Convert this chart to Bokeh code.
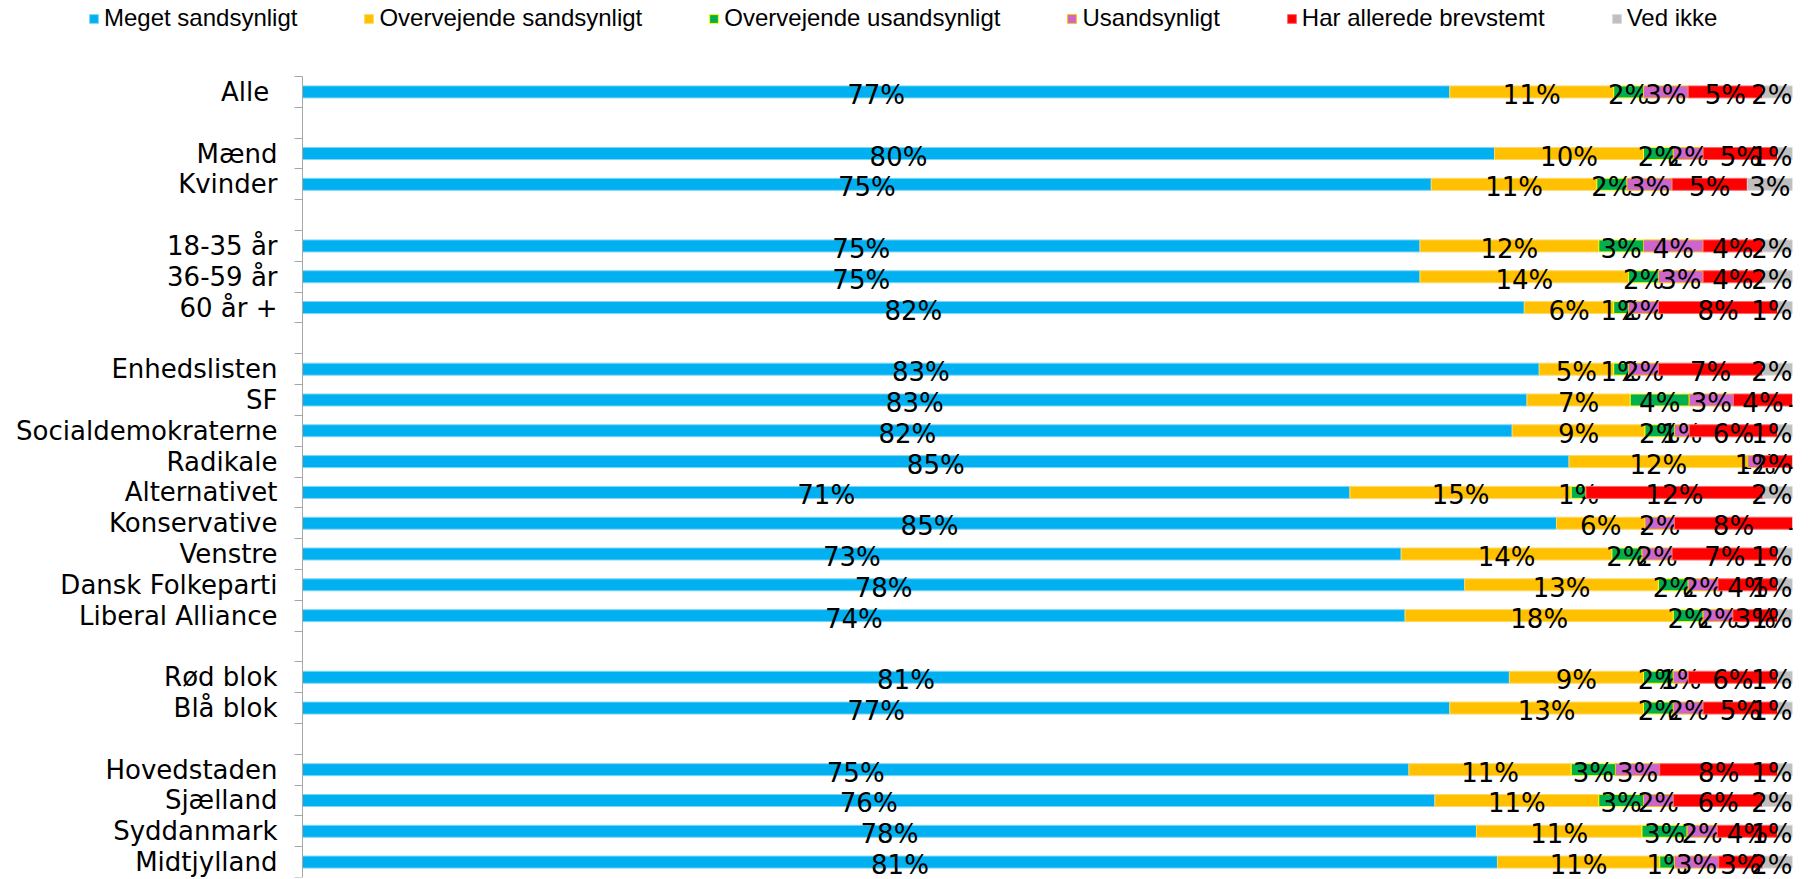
from bokeh.plotting import figure
from bokeh.models import (ColumnDataSource, Range1d, FixedTicker, Legend, LegendItem)
from bokeh.core.properties import value
from bokeh.embed import file_html
from bokeh.resources import INLINE

categories = ["Alle ", "", "Mænd", "Kvinder", "", "18-35 år", "36-59 år", "60 år +", "",
              "Enhedslisten", "SF", "Socialdemokraterne", "Radikale", "Alternativet",
              "Konservative", "Venstre", "Dansk Folkeparti", "Liberal Alliance", "",
              "Rød blok", "Blå blok", "", "Hovedstaden", "Sjælland", "Syddanmark", "Midtjylland"]

series_names = ["Meget sandsynligt", "Overvejende sandsynligt", "Overvejende usandsynligt",
                "Usandsynligt", "Har allerede brevstemt", "Ved ikke"]

meget_sandsynligt = [77, None, 80, 75, None, 75, 75, 82, None, 83, 83, 82, 85, 71, 85, 73, 78, 74, None, 81, 77, None, 75, 76, 78, 81]
overvejende_sandsynligt = [11, None, 10, 11, None, 12, 14, 6, None, 5, 7, 9, 12, 15, 6, 14, 13, 18, None, 9, 13, None, 11, 11, 11, 11]
overvejende_usandsynligt = [2, None, 2, 2, None, 3, 2, 1, None, 1, 4, 2, 0, 1, 0, 2, 2, 2, None, 2, 2, None, 3, 3, 3, 1]
usandsynligt = [3, None, 2, 3, None, 4, 3, 2, None, 2, 3, 1, 1, 0, 2, 2, 2, 2, None, 1, 2, None, 3, 2, 2, 3]
har_brevstemt = [5, None, 5, 5, None, 4, 4, 8, None, 7, 4, 6, 2, 12, 8, 7, 4, 3, None, 6, 5, None, 8, 6, 4, 3]
ved_ikke = [2, None, 1, 3, None, 2, 2, 1, None, 2, 0, 1, 0, 2, 0, 1, 1, 1, None, 1, 1, None, 1, 2, 1, 2]

all_series = [meget_sandsynligt, overvejende_sandsynligt, overvejende_usandsynligt,
              usandsynligt, har_brevstemt, ved_ikke]

fill_colors = ["#00B0F0", "#FFC000", "#00B050", "#CC66CC", "#FF0000", "#BFBFBF"]
line_colors = ["#7FD7F7", "#FFD966", "#FFFF00", "#FFC000", "#FF6666", "#D9D9D9"]

FONT = "DejaVu Sans"
LABEL_PX = 26
n = len(categories)

# layout (pixels): plot area of the bars, and room above it for the legend
W, H = 1808, 879
BAR_LEFT, BAR_RIGHT = 302, 1792
ROWS_TOP, ROWS_BOTTOM = 76, 877
px_per_unit_x = (BAR_RIGHT - BAR_LEFT) / 100.0
px_per_row = (ROWS_BOTTOM - ROWS_TOP) / n
x_start = -BAR_LEFT / px_per_unit_x
y_top = -0.5 - ROWS_TOP / px_per_row

p = figure(width=W, height=H, output_backend="svg", toolbar_location=None,
           x_range=Range1d(x_start, 100), y_range=Range1d(n - 0.5, y_top),
           min_border_left=0, min_border_right=W - BAR_RIGHT, min_border_top=0,
           min_border_bottom=H - ROWS_BOTTOM)
p.outline_line_color = None
p.xgrid.visible = False
p.ygrid.visible = False
p.xaxis.visible = False

rows = [i for i in range(n) if categories[i].strip() != ""]
totals = {i: sum(s[i] for s in all_series) for i in rows}
cum = {i: 0.0 for i in rows}
renderers = []
for k, s in enumerate(all_series):
    ys, lefts, rights, centers, labels = [], [], [], [], []
    for i in rows:
        share = s[i] * 100.0 / totals[i]
        lab = f"{s[i]}%" if s[i] > 0 else "-"
        half_w = (0.636 * (len(lab) - 1) + 0.95) * LABEL_PX / 2 / px_per_unit_x
        xc = min(cum[i] + share / 2, 100 - half_w) if lab != "-" else cum[i] + share / 2
        ys.append(i)
        lefts.append(cum[i])
        rights.append(cum[i] + share)
        centers.append(xc)
        labels.append(lab)
        cum[i] += share
    src = ColumnDataSource(dict(y=ys, left=lefts, right=rights, xc=centers, lab=labels))
    r = p.hbar(y="y", left="left", right="right", height=0.39, source=src,
               fill_color=fill_colors[k], line_color=line_colors[k], line_width=1)
    renderers.append(r)
    p.text(x="xc", y="y", text="lab", source=src, text_align="center",
           text_baseline="middle", text_font_size=f"{LABEL_PX}px", text_color="#000000",
           text_font=value(FONT), y_offset=3)

ax = p.yaxis[0]
ax.fixed_location = 0
ax.bounds = (-0.5, n - 0.5)
ax.ticker = FixedTicker(ticks=rows, minor_ticks=[i - 0.5 for i in range(n + 1)])
ax.major_label_overrides = {i: categories[i] for i in rows}
ax.major_tick_line_color = None
ax.major_tick_out = 0
ax.major_tick_in = 0
ax.minor_tick_out = 8
ax.minor_tick_in = 0
ax.minor_tick_line_color = "#A6A6A6"
ax.axis_line_color = "#A6A6A6"
ax.major_label_standoff = 17
ax.major_label_text_font = FONT
ax.major_label_text_font_size = "26px"
ax.major_label_text_color = "#000000"

legend = Legend(items=[LegendItem(label=series_names[k], renderers=[renderers[k]]) for k in range(6)],
                orientation="horizontal", location=(88, ROWS_BOTTOM - 18 - 14),
                glyph_width=11, glyph_height=11, label_standoff=5, spacing=66,
                padding=0, margin=0, border_line_color=None, background_fill_alpha=0,
                label_text_font="Liberation Sans", label_text_font_size="24px",
                label_text_color="#000000")
p.add_layout(legend, "center")

open("out.html", "w").write(file_html(p, INLINE))
